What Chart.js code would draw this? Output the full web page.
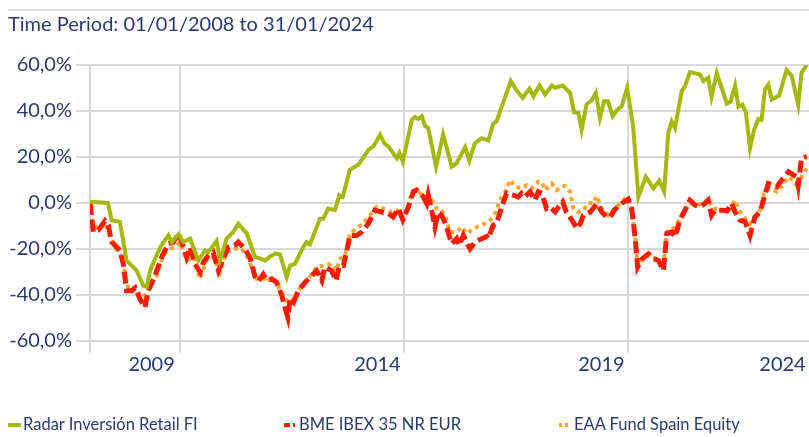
<!DOCTYPE html>
<html>
<head>
<meta charset="utf-8">
<script src="https://cdn.jsdelivr.net/npm/chart.js@4.4.1/dist/chart.umd.min.js"></script>
<style>
  body { margin: 0; background: #fff; font-family: Lato, sans-serif; }
  #wrap { position: relative; width: 809px; height: 437px; }
  #topline { position: absolute; left: 8px; right: 0; top: 9px; height: 2px; background: #dcdcdc; }
  #legend { position: absolute; left: 0; top: 414px; width: 809px; height: 20px; color: #283a70; font-size: 16.5px; }
  .item { position: absolute; top: 0; white-space: nowrap; }
  .mark { display: inline-block; width: 13px; height: 4px; vertical-align: middle; margin-right: 2px; position: relative; top: -1px; }
</style>
</head>
<body>
<div id="wrap">
  <div id="topline"></div>
  <canvas id="chart" width="809" height="437"></canvas>
  <div id="legend"></div>
</div>
<script>
// months counted from Jan 2008 (0) to Jan 2024 (192)
var seriesNames = ['Radar Inversión Retail FI', 'BME IBEX 35 NR EUR', 'EAA Fund Spain Equity'];
var seriesColors = ['#a3b90b', '#ff1a00', '#ffa42c'];

var radarMonths = [0, 4.8, 5.8, 8, 9.8, 12.5, 14.3, 15.2, 16.1, 17.4, 18.8, 21, 21.9, 23.7, 25, 26.8, 29, 30.8, 31.7, 33.9, 34.8, 36.6, 38.4, 39.7, 42, 44.2, 45.5, 46.9, 48.2, 49.6, 50.9, 52.7, 53.6, 54.9, 57.1, 58, 58.9, 61.6, 62.5, 63.8, 65.6, 66.8, 67.7, 69.6, 71.9, 74.6, 75.9, 77.7, 78.8, 79.9, 82.2, 82.9, 83.8, 86.2, 87.1, 87.9, 88.9, 89.7, 90.6, 92.7, 94.6, 96.9, 98.2, 100.5, 101.6, 103.1, 104.9, 106.7, 108, 108.9, 112.7, 114.1, 115.9, 117.7, 118.8, 120.4, 121.9, 123.7, 124.6, 126.6, 128.6, 129.7, 130.8, 131.7, 133, 134.4, 135.5, 136.6, 137.7, 138.8, 140, 141.3, 142.4, 143.9, 145.5, 146.9, 148.9, 150.9, 152.5, 153.8, 154.9, 155.8, 156.7, 158.5, 159.4, 160.7, 163.4, 164.3, 165.6, 166.5, 167.9, 169.2, 170.6, 171.6, 172.8, 173.7, 174.8, 175.7, 176.8, 177.9, 179, 179.9, 180.8, 181.7, 182.6, 184.6, 186.6, 188, 189.7, 190.6, 192];
var radarValues = [0.5, 0, -7.5, -8.2, -25, -29.4, -36, -36.4, -29.4, -24.3, -19.2, -14, -17, -13.6, -17, -15.5, -25, -20.6, -21.4, -16.5, -25, -15.5, -12.6, -9, -13.3, -23.5, -24.1, -25, -23.3, -22, -22.4, -32.3, -27.2, -26.5, -19.2, -17, -18, -6.8, -6.8, -2.4, -3.1, 3.4, 2.7, 14.4, 16.6, 23.1, 24.6, 29.7, 26, 24.6, 19.5, 21.7, 18, 36.2, 37.4, 36.5, 37.7, 33.6, 32.6, 15.8, 29.7, 15.8, 17.3, 24.3, 18.4, 26, 28.2, 27.2, 34.5, 35.5, 53, 49.4, 45.7, 49.7, 46.4, 51.1, 47.2, 51.1, 50.1, 51.1, 47.9, 39.4, 39.2, 31.9, 42.8, 44.7, 47.9, 37, 44.2, 44.2, 37.7, 40.6, 42, 50.1, 33.3, 2.7, 11.4, 6.4, 9.7, 4.9, 30.4, 35.5, 32.6, 48.6, 50.8, 56.9, 55.9, 53, 54.5, 46.2, 56.4, 50.1, 43.2, 44.2, 51.1, 41.8, 42.8, 39.2, 23.8, 31.9, 36.5, 36.2, 49.4, 51.5, 45, 46.7, 57.8, 55.2, 42.8, 56.7, 59.9];

var ibexMonths = [0, 0.9, 2.2, 4, 4.9, 5.8, 8, 8.9, 9.8, 11.2, 12.1, 13.4, 14.7, 15.6, 17.4, 19.2, 21, 22.3, 23.7, 24.6, 25.9, 26.8, 28.1, 29.5, 30.4, 31.7, 33, 34.4, 35.7, 37, 38.8, 39.7, 41.5, 42.9, 44.2, 45.1, 46.4, 47.3, 48.7, 50, 51.4, 52.2, 53, 53.6, 54.5, 55.8, 57.6, 59.4, 60.7, 62.1, 62.9, 64.7, 65.9, 66.8, 67.9, 69.2, 69.6, 71.4, 72.8, 74.6, 76.3, 78.1, 79.9, 81.2, 82.6, 83.8, 85.3, 86.6, 87.5, 89.3, 90.2, 90.6, 91.5, 92.4, 93.3, 94.2, 95.4, 96.3, 96.9, 98.2, 98.9, 100, 101.3, 101.8, 103.1, 104.9, 106.3, 106.7, 108, 108.9, 110.3, 111.6, 113.4, 114.7, 115.6, 116.5, 117.9, 119.2, 120.1, 121, 122.3, 123.2, 124.6, 125.5, 126.6, 127.6, 129, 130.4, 131.3, 132.2, 134, 135.8, 137.1, 138.4, 139.3, 140.6, 142.4, 144.2, 145.1, 146, 146.7, 147.9, 149.6, 151, 152.3, 153.6, 154.5, 155.8, 156.7, 158, 159.4, 160.7, 162.1, 163.4, 164.7, 165.6, 166.5, 167.4, 169.2, 170.6, 171.9, 172.8, 174.1, 175.5, 176.8, 178.1, 179.5, 180.4, 181.7, 184, 185.3, 187.1, 189.3, 189.7, 190.6, 192];
var ibexValues = [0, -12.6, -11.9, -7.8, -9.7, -17, -20.6, -26.4, -38.1, -38.1, -36.9, -41.8, -45.4, -38.1, -31.6, -23.5, -17.7, -17, -13.3, -17, -23.5, -19.2, -26.4, -30.1, -25.7, -22.8, -21.4, -29.4, -24.3, -19.2, -18.4, -17, -19.9, -24, -32, -34, -31, -33.5, -33, -34.5, -40.3, -45.4, -49.8, -41.8, -43.2, -38.1, -34.5, -31.6, -29.4, -33.7, -27.9, -29.4, -33.7, -27.2, -27.2, -17.7, -14.1, -14.1, -12.6, -8.9, -3.1, -3.9, -4.6, -6.1, -2.4, -7.3, -1.7, 4.9, 5.6, 2.7, -0.2, 3.4, -3.1, -10.4, -3.9, -5.3, -9.7, -14.8, -17.7, -15.5, -18.4, -14.1, -18.4, -19.9, -17, -15.5, -14.5, -15.5, -9.7, -8.9, -1.7, 4.2, 3.4, 2.7, 4.2, 2.7, 4.9, 1.2, 4.9, 4.2, -2.4, -1.7, -3.9, -1.7, 0.5, -3.9, -7.2, -11.1, -9, -5.3, -3.9, -0.2, -3.9, -6.1, -6.1, -2.8, -0.2, 1.6, -2.4, -14.8, -27.9, -24.3, -22.1, -24.3, -25, -29.4, -13.3, -12.6, -14.8, -7.5, -3.1, 1.2, -0.9, -1.7, -0.2, 1.2, -5.3, -3.1, -3.1, -3.4, -0.2, -3.9, -7.5, -8.2, -14.1, -6.1, -3.9, 1.2, 8.5, 7.1, 10, 13.6, 11.4, 7.8, 19.5, 20.2];

var eaaMonths = [0, 0.5, 2.2, 4, 5.8, 6.7, 8.5, 9.4, 10.3, 12.1, 13.8, 15.2, 16.5, 17.9, 19.6, 21, 23.2, 24.1, 25.9, 27.7, 29.5, 31.3, 33, 34.8, 36.6, 38.4, 40.6, 42, 43.3, 44.7, 46.4, 47.3, 48.7, 50, 51.4, 52.7, 53.6, 54.9, 56.3, 58.5, 60.7, 62.9, 64.7, 65.9, 67, 68.3, 69.6, 71.4, 73.2, 75, 76.8, 78.6, 80.4, 82.2, 83.8, 85.3, 86.2, 87.5, 88.9, 90.2, 91.5, 92.9, 93.8, 95.1, 96.4, 98.2, 99.6, 100.9, 102.7, 104.9, 107.2, 108.5, 109.8, 111.2, 112.5, 113.9, 115.6, 117, 118.3, 120.1, 121, 121.9, 123.7, 125, 126.4, 127.3, 128.6, 129.5, 130.8, 132.2, 133.5, 134.8, 135.7, 137.1, 138.8, 140.2, 142, 143.8, 145.1, 146, 146.5, 146.9, 148.8, 151.9, 153.6, 154.5, 156.3, 157.6, 158.9, 160.7, 162.5, 164.3, 165.6, 166.9, 169.2, 171, 172.8, 173.7, 175.1, 176.8, 178.1, 179.5, 180.8, 182.1, 184, 185.7, 187.1, 188.4, 189.7, 190.6, 192];
var eaaValues = [0, -8.2, -11.6, -9, -15.5, -19.2, -23.5, -30.8, -37.4, -36.9, -41, -39.6, -34.5, -31.6, -22.8, -20.6, -18.4, -17, -25, -23.5, -33, -24.3, -23.5, -30.1, -21.4, -19.9, -19.9, -22.8, -27.9, -33, -32.3, -34.5, -32.3, -34.5, -39.6, -42.5, -41, -42.5, -36.7, -33, -27.9, -27.2, -26.4, -29.4, -24.3, -22.8, -13.3, -11.1, -8.9, -5.3, -1.7, -2.4, -3.9, -3.1, -6.8, -1.7, 4.9, 5.9, 3.4, 1.2, 1.2, -2.4, -2.4, -5.3, -12.6, -12.6, -10.4, -13.3, -11.1, -9.7, -7.5, -4.6, 1.2, 4.9, 10, 7.1, 6.4, 7.8, 6.4, 9.3, 9.3, 5.6, 8.5, 5.6, 7.4, 7.4, 4.9, -2.4, -3.9, -3.1, 0.1, -0.2, 3, -2.4, -5.3, -3.1, -0.2, 2.7, -3.1, -13.3, -23.5, -27.2, -22.8, -24.3, -27.9, -12.6, -11.1, -8.2, -3.9, -0.2, -0.9, -0.2, 2, -2.4, -3.1, -3.9, 1.2, -2.4, -6.1, -9, -6.1, -3.1, 5.6, 6.4, 4.9, 7.8, 11.4, 10, 6.4, 11.4, 15.1];

var yTicks = [-60, -40, -20, 0, 20, 40, 60];
var gridMonths = [0, 24, 84, 144];
var yearLabels = ['2009', '2014', '2019', '2024'];
var yearLabelMonths = [16.5, 77, 137, 185.5];

var navy = '#283a70';

function toPoints(xs, ys) {
  return xs.map(function(x, i) { return {x: x, y: ys[i]}; });
}

new Chart(document.getElementById('chart'), {
  type: 'line',
  data: {
    datasets: [{
      label: seriesNames[0],
      data: toPoints(radarMonths, radarValues),
      borderColor: seriesColors[0],
      borderWidth: 4,
      pointRadius: 0,
      tension: 0,
      fill: false
    }, {
      label: seriesNames[1],
      data: toPoints(ibexMonths, ibexValues),
      borderColor: seriesColors[1],
      borderWidth: 5,
      borderDash: [12, 5],
      pointRadius: 0,
      tension: 0,
      fill: false
    }, {
      label: seriesNames[2],
      data: toPoints(eaaMonths, eaaValues),
      borderColor: seriesColors[2],
      borderWidth: 4,
      borderDash: [4, 4],
      pointRadius: 0,
      tension: 0,
      fill: false
    }]
  },
  options: {
    responsive: false,
    animation: false,
    layout: {
      padding: { left: 8, right: 0, top: 0, bottom: 60 }
    },
    plugins: {
      legend: { display: false },
      tooltip: { enabled: false },
      title: {
        display: true,
        text: 'Time Period: 01/01/2008 to 31/01/2024',
        align: 'start',
        color: navy,
        font: { family: 'Lato', size: 20, weight: 'normal' },
        padding: { top: 13, bottom: 28 }
      }
    },
    scales: {
      x: {
        type: 'linear',
        min: 0,
        max: 192.6,
        afterBuildTicks: function(s) { s.ticks = gridMonths.map(function(v) { return {value: v}; }); },
        ticks: { display: false },
        grid: { color: '#d9d9d9', lineWidth: 2, tickLength: 12 },
        border: { display: false }
      },
      xLabels: {
        type: 'linear',
        position: 'bottom',
        min: 0,
        max: 192.6,
        afterBuildTicks: function(s) { s.ticks = yearLabelMonths.map(function(v) { return {value: v}; }); },
        ticks: {
          autoSkip: false,
          maxRotation: 0,
          padding: 0,
          color: navy,
          font: { family: 'Lato', size: 20 },
          callback: function(v, i) { return yearLabels[i]; }
        },
        grid: { display: false, drawTicks: false },
        border: { display: false }
      },
      y: {
        min: -60,
        max: 60,
        afterBuildTicks: function(s) { s.ticks = yTicks.map(function(v) { return {value: v}; }); },
        afterFit: function(s) { s.width = 82; },
        ticks: {
          padding: 4,
          color: navy,
          font: { family: 'Lato', size: 20 },
          callback: function(v) { return v.toFixed(1).replace('.', ',') + '%'; }
        },
        grid: { color: '#d9d9d9', lineWidth: 2, tickLength: 14 },
        border: { display: false }
      }
    }
  }
});

// legend in three fixed columns, as in the original
var legendLeft = [8, 284, 559];
var markStyles = [
  'background:' + seriesColors[0],
  'background:linear-gradient(to right,' + seriesColors[1] + ' 0 6px,transparent 6px 9px,' + seriesColors[1] + ' 9px 11px,transparent 11px)',
  'background:linear-gradient(to right,' + seriesColors[2] + ' 0 3px,transparent 3px 6px,' + seriesColors[2] + ' 6px 9px,transparent 9px)'
];
var legend = document.getElementById('legend');
seriesNames.forEach(function(name, i) {
  var item = document.createElement('div');
  item.className = 'item';
  item.style.left = legendLeft[i] + 'px';
  item.innerHTML = '<span class="mark" style="' + markStyles[i] + '"></span>' + name;
  legend.appendChild(item);
});
</script>
</body>
</html>
